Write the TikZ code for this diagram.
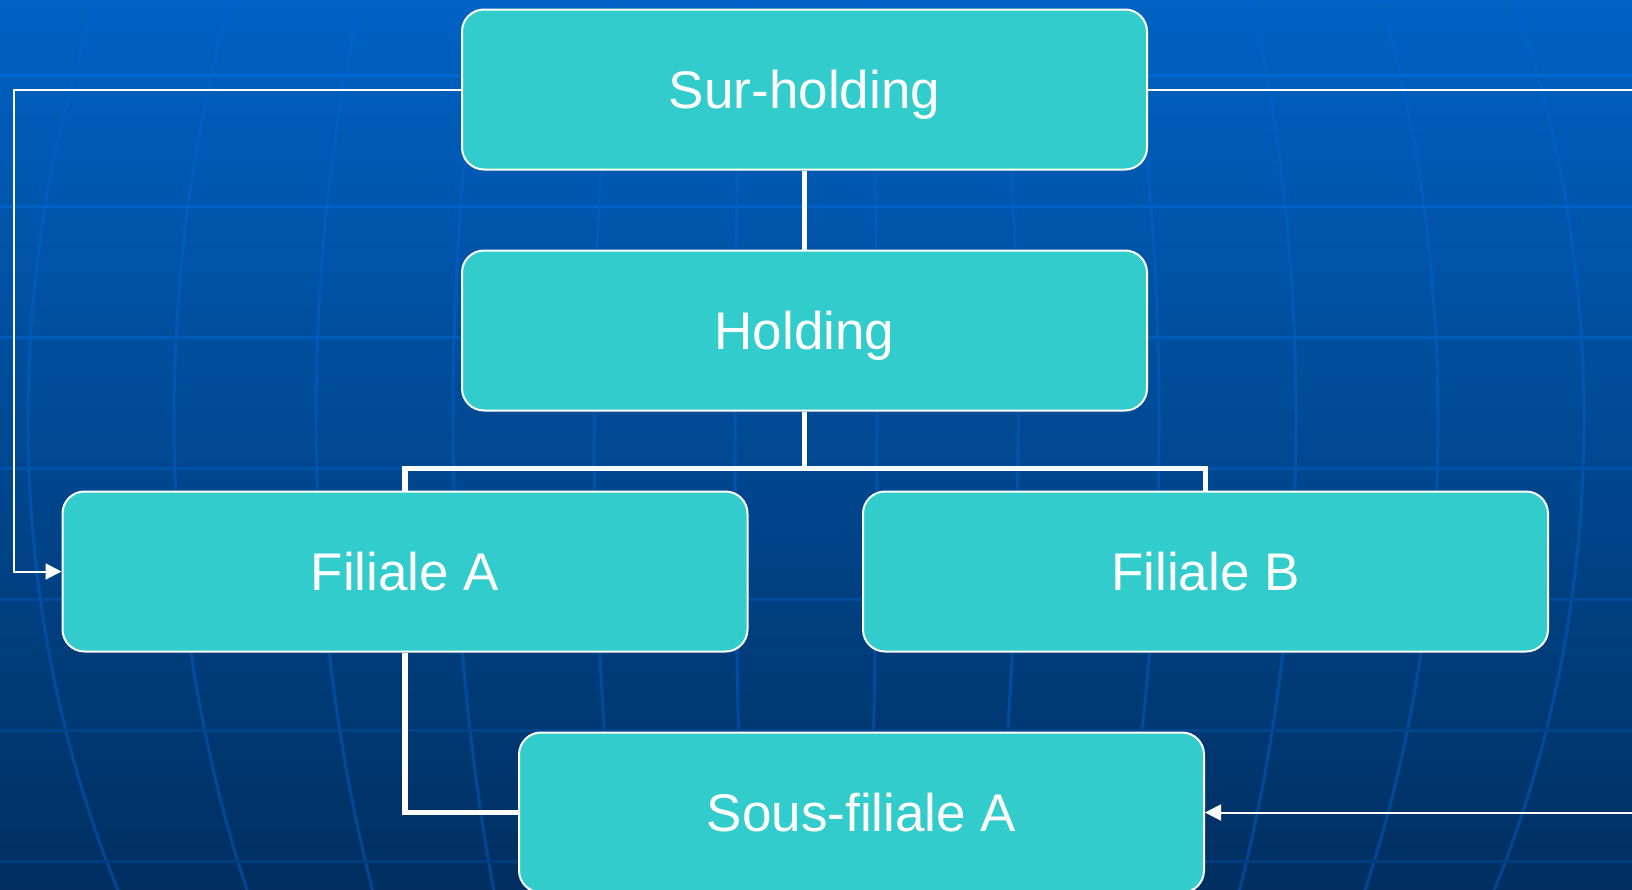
\documentclass[tikz,border=0pt]{standalone}
\usepackage{fontspec}
\setmainfont{Liberation Sans}
\usetikzlibrary{arrows.meta}

\definecolor{bgTop}{RGB}{0,98,196}
\definecolor{bgBot}{RGB}{0,47,96}
\definecolor{gridTop}{RGB}{0,110,222}
\definecolor{gridBot}{RGB}{0,58,124}
\definecolor{meridian}{RGB}{0,100,210}
\definecolor{boxfill}{RGB}{51,204,204}

\begin{document}
\begin{tikzpicture}[x=1pt,y=-1pt,
  entity/.style={draw=white, line width=2pt, fill=boxfill, rounded corners=22pt,
    minimum width=685pt, minimum height=160pt, inner sep=0pt, text=white,
    text height=38pt, text depth=0pt,
    font=\fontsize{53}{60}\selectfont},
  link/.style={draw=white, line width=5.5pt},
  flow/.style={draw=white, line width=2pt},
  flowarrow/.style={flow, -{Triangle[length=16pt,width=16pt]}}]

\useasboundingbox (0,0) rectangle (1632,889);

% globe-style backdrop
\begin{scope}
  \clip (0,0) rectangle (1632,889);
  \shade[top color=bgTop, bottom color=bgBot] (0,0) rectangle (1632,889);
  \foreach \k in {71,212,353,490,632,778}
    \draw[meridian, line width=3pt, opacity=0.45]
      (806,419) ellipse [x radius=\k, y radius=1009];
  \foreach \y in {75,206,337,468,599,730,861}{
    \pgfmathtruncatemacro\p{100*(1-\y/889)}
    \colorlet{gridline}{gridTop!\p!gridBot}
    \draw[gridline, line width=3pt] (0,\y) -- (1632,\y);
  }
\end{scope}

% organisation chart
\node[entity] (sur)  at (804.5,89.5)  {Sur-holding};
\node[entity] (hold) at (804.5,330.5) {Holding};
\node[entity] (fa)   at (405,571.5)   {Filiale A};
\node[entity] (fb)   at (1205.5,571.5){Filiale B};
\node[entity] (sf)   at (861.5,812.5) {Sous-filiale A};

% ownership links
\draw[link] (sur.south) -- (hold.north);
\draw[link] (hold.south) -- ++(0,57) coordinate (bus);
\draw[link] (fa.north) |- (bus) -| (fb.north);
\draw[link] (fa.south) |- (sf.west);

% indirect control
\coordinate (lft) at (14,89.5);
\coordinate (rtop) at (1632,89.5);
\coordinate (rbot) at (1632,812.5);
\draw[flowarrow] (sur.west) -- (lft) |- (fa.west);
\draw[flow] (sur.east) -- (rtop);
\draw[flowarrow] (rbot) -- (sf.east);
\end{tikzpicture}
\end{document}
